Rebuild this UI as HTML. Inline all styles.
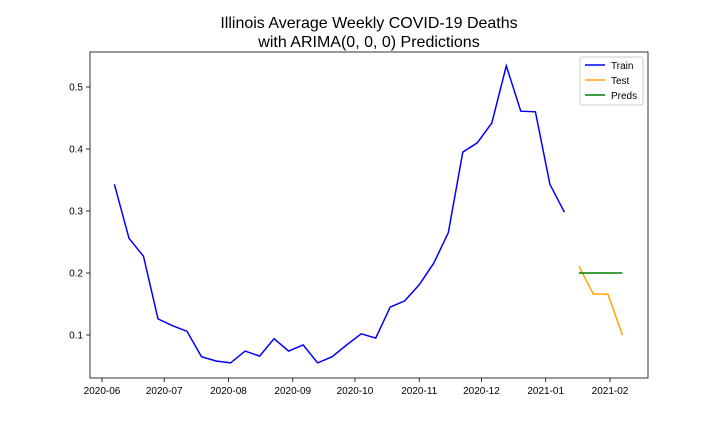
<!DOCTYPE html>
<html><head><meta charset="utf-8"><style>
body{margin:0;background:#fff;font-family:"Liberation Sans","DejaVu Sans",sans-serif}
svg text{font-family:"Liberation Sans","DejaVu Sans",sans-serif}
</style></head><body>
<svg id="chart" width="720" height="432">
<text x="369" y="28" text-anchor="middle" font-size="16">Illinois Average Weekly COVID-19 Deaths</text>
<text x="369" y="47" text-anchor="middle" font-size="16">with ARIMA(0, 0, 0) Predictions</text>
<g id="axes"></g><g id="series"></g>
<rect x="90" y="52" width="558" height="326" fill="none" stroke="#000" stroke-width="0.8"/>
<g>
<rect x="580" y="57" width="63" height="48" fill="#fff" stroke="#ccc" rx="2"/>
<line x1="585" y1="65" x2="605" y2="65" stroke="blue" stroke-width="1.5"/>
<text x="611" y="69" font-size="10">Train</text>
<line x1="585" y1="80" x2="605" y2="80" stroke="orange" stroke-width="1.5"/>
<text x="611" y="84" font-size="10">Test</text>
<line x1="585" y1="95" x2="605" y2="95" stroke="green" stroke-width="1.5"/>
<text x="611" y="99" font-size="10">Preds</text>
</g>
</svg>
<script>
const trainStart = "2020-06-07";
const trainValues = [0.343,0.256,0.227,0.126,0.115,0.106,0.065,0.058,0.055,0.074,0.066,0.094,0.074,0.084,0.055,0.065,0.084,0.102,0.095,0.145,0.155,0.181,0.216,0.265,0.395,0.410,0.442,0.534,0.461,0.460,0.343,0.298];
const testStart = "2021-01-17";
const testValues = [0.211,0.166,0.166,0.100];
const predValues = [0.2,0.2,0.2,0.2];
const yTicks = [0.1,0.2,0.3,0.4,0.5];
const xTickLabels = ["2020-06","2020-07","2020-08","2020-09","2020-10","2020-11","2020-12","2021-01","2021-02"];

const NS="http://www.w3.org/2000/svg";
const d0=Date.UTC(2020,5,1), d1=Date.UTC(2021,1,1);
function xs(t){return 102+(t-d0)/(d1-d0)*508;}
function ys(v){return 335-(v-0.1)*620;}
function dayMs(s){const p=s.split('-');return Date.UTC(+p[0],+p[1]-1,+p[2]);}
function mk(tag,attrs,parent){const e=document.createElementNS(NS,tag);for(const k in attrs)e.setAttribute(k,attrs[k]);parent.appendChild(e);return e;}
const axes=document.getElementById('axes'), series=document.getElementById('series');
yTicks.forEach(v=>{
  const y=ys(v);
  const l=mk('line',{x1:86,x2:90,y1:y,y2:y,stroke:'#000','stroke-width':0.8},axes);
  
  
  const t=mk('text',{x:83,y:y+3.5,'text-anchor':'end','font-size':10},axes);
  t.textContent=v.toFixed(1);
  
  
});
xTickLabels.forEach(s=>{
  const x=xs(dayMs(s+"-01"));
  const l=mk('line',{x1:x,x2:x,y1:378,y2:382,stroke:'#000','stroke-width':0.8},axes);
  
  
  const t=mk('text',{x:x,y:394,'text-anchor':'middle','font-size':10},axes);
  t.textContent=s;
  
  
});
function line(start,vals,color,name){
  const s=dayMs(start);
  const pts=vals.map((v,i)=>xs(s+i*7*864e5).toFixed(1)+','+ys(v).toFixed(1)).join(' ');
  const p=mk('polyline',{points:pts,fill:'none',stroke:color,'stroke-width':1.5},series);
  
  
}
line(trainStart,trainValues,'blue','train-line');
line(testStart,testValues,'orange','test-line');
line(testStart,predValues,'green','preds-line');
</script>
</body></html>
